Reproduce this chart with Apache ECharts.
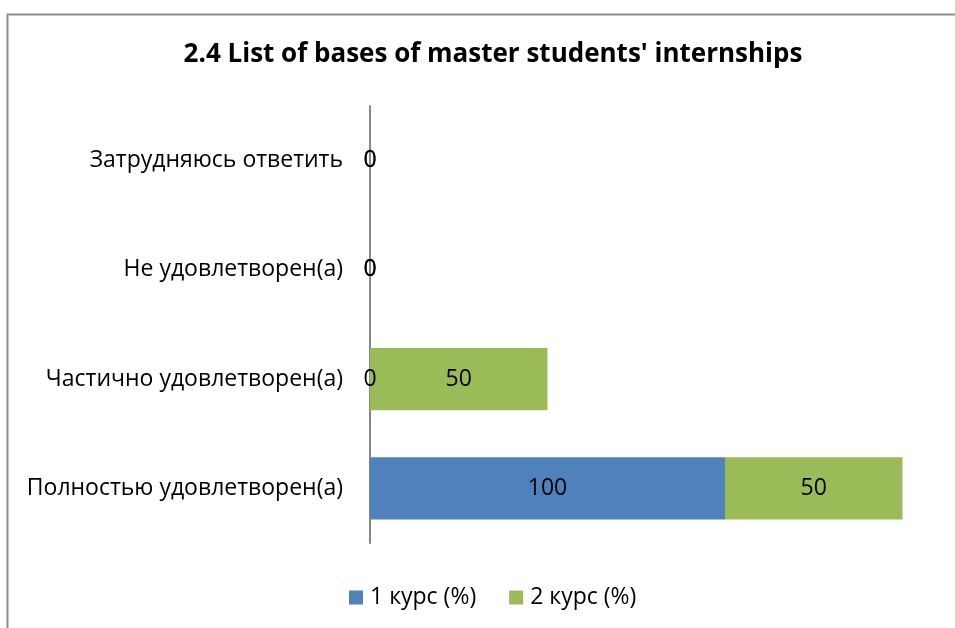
<!DOCTYPE html>
<html lang="ru">
<head>
    <meta charset="UTF-8">
    <title>2.4 List of bases of master students' internships</title>
    <script src="https://cdn.jsdelivr.net/npm/echarts@6/dist/echarts.min.js"></script>
    <style>
        html, body { margin: 0; padding: 0; background: #fff; }
        #main { width: 955px; height: 628px; }
    </style>
</head>
<body>
<div id="main"></div>
<script type="text/javascript">
    // данные
    var categories = ['Полностью удовлетворен(а)', 'Частично удовлетворен(а)', 'Не удовлетворен(а)', 'Затрудняюсь ответить'];
    var course1 = [100, 0, 0, 0];
    var course2 = [50, 50, 0, 0];
    var seriesNames = ['1 курс (%)', '2 курс (%)'];

    var font = '"Open Sans", sans-serif';
    var chart = echarts.init(document.getElementById('main'));

    var labelStyle = {
        show: true,
        position: 'inside',
        color: '#000',
        fontSize: 23,
        fontFamily: font
    };

    var option = {
        animation: false,
        title: {
            text: "2.4 List of bases of master students' internships",
            left: 488,
            textAlign: 'center',
            top: 37,
            textStyle: { fontSize: 26, fontWeight: 'bold', color: '#000', fontFamily: font }
        },
        // рамка диаграммы (видны только верх и левый край)
        graphic: [{
            type: 'rect',
            shape: { x: 7.5, y: 14.5, width: 1000, height: 700 },
            style: { fill: 'none', stroke: '#8c8c8c', lineWidth: 2 },
            silent: true
        }],
        legend: {
            bottom: 14,
            left: 344,
            itemWidth: 14,
            itemHeight: 14,
            itemGap: 33,
            icon: 'rect',
            textStyle: { fontSize: 23, color: '#000', fontFamily: font, padding: [0, 0, 0, 2] },
            data: seriesNames
        },
        grid: {
            left: 370,
            right: 17,
            top: 106,
            bottom: 85
        },
        xAxis: {
            type: 'value',
            min: 0,
            max: 160,
            show: false
        },
        yAxis: {
            type: 'category',
            data: categories,
            axisLine: { show: true, lineStyle: { color: '#868686', width: 2 } },
            axisTick: { show: false },
            axisLabel: { fontSize: 23, color: '#000', margin: 27, fontFamily: font }
        },
        series: [
            {
                name: seriesNames[0],
                type: 'bar',
                stack: 'total',
                barCategoryGap: '43%',
                itemStyle: { color: '#4F81BD' },
                label: labelStyle,
                data: course1
            },
            {
                name: seriesNames[1],
                type: 'bar',
                stack: 'total',
                barCategoryGap: '43%',
                itemStyle: { color: '#9BBB59' },
                label: labelStyle,
                data: course2
            }
        ]
    };
    chart.setOption(option);
</script>
</body>
</html>
